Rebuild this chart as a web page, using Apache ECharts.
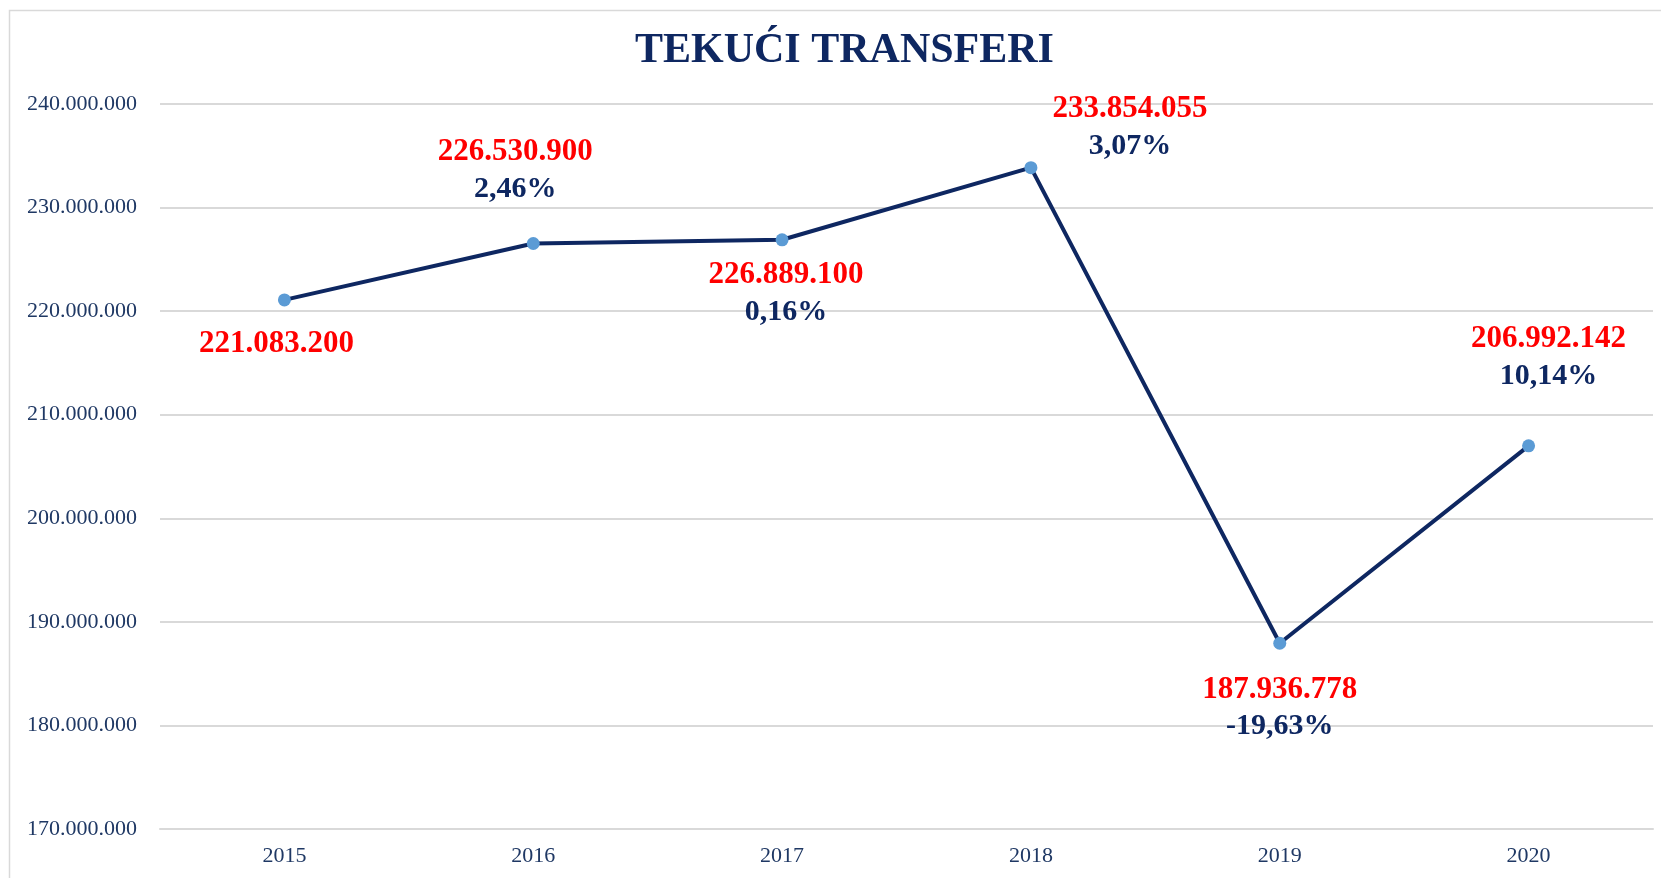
<!DOCTYPE html>
<html>
<head>
	<meta charset="UTF-8">
	<title>Tekući transferi</title>
	<style>
		html, body { margin: 0; padding: 0; background: #fff; }
		#chart { width: 1661px; height: 878px; }
	</style>
</head>
<body>
<div id="chart"></div>
<script type="text/javascript" src="https://cdn.jsdelivr.net/npm/echarts@6/dist/echarts.min.js"></script>
<script type="text/javascript">
var years = ['2015', '2016', '2017', '2018', '2019', '2020'];
var values = [221083200, 226530900, 226889100, 233854055, 187936778, 206992142];
var changes = ['', '2,46%', '0,16%', '3,07%', '-19,63%', '10,14%'];
var yTicks = [170000000, 180000000, 190000000, 200000000, 210000000, 220000000, 230000000, 240000000];

// where each value label sits relative to its point (px)
var labelOffsets = [[-8, 44], [-18, -73], [4, 54], [99, -40], [0, 65], [20, -88]];

var fontFam = '"Liberation Serif", "DejaVu Serif", serif';
var navy = '#0e2761';

function fmt(n) {
	return String(n).replace(/\B(?=(\d{3})+(?!\d))/g, '.');
}

var points = [];
for (var i = 0; i < values.length; i++) {
	points.push({
		value: values[i],
		label: {
			position: 'inside',
			offset: labelOffsets[i]
		}
	});
}

var chart = echarts.init(document.getElementById('chart'));
var option = {
	animation: false,
	backgroundColor: '#fff',
	title: {
		text: 'TEKUĆI TRANSFERI',
		left: 630,
		top: 25,
		textStyle: {
			fontFamily: fontFam,
			fontSize: 42,
			fontWeight: 'bold',
			color: navy
		}
	},
	graphic: [{
		type: 'polyline',
		silent: true,
		shape: { points: [[9.5, 900], [9.5, 10.5], [1700, 10.5]] },
		style: { stroke: '#d9d9d9', lineWidth: 1.5, fill: null }
	}],
	grid: {
		left: 160,
		right: 8,
		top: 104,
		bottom: 49
	},
	xAxis: {
		type: 'category',
		data: years,
		boundaryGap: true,
		axisLine: { show: true, lineStyle: { color: '#d9d9d9', width: 2 } },
		axisTick: { show: false },
		axisLabel: {
			margin: 16,
			fontFamily: fontFam,
			fontSize: 22,
			color: '#1f3864'
		}
	},
	yAxis: {
		type: 'value',
		min: yTicks[0],
		max: yTicks[yTicks.length - 1],
		interval: 10000000,
		axisLine: { show: false },
		axisTick: { show: false },
		splitLine: { lineStyle: { color: '#d9d9d9', width: 2 } },
		axisLabel: {
			margin: 23,
			fontFamily: fontFam,
			fontSize: 22,
			color: '#1f3864',
			formatter: function (v) { return fmt(v); }
		}
	},
	series: [{
		type: 'line',
		data: points,
		symbol: 'circle',
		symbolSize: 13,
		lineStyle: { color: navy, width: 4 },
		itemStyle: { color: '#5b9bd5' },
		label: {
			show: true,
			formatter: function (p) {
				var s = '{v|' + fmt(p.value) + '}';
				if (changes[p.dataIndex]) s += '\n{c|' + changes[p.dataIndex] + '}';
				return s;
			},
			rich: {
				v: {
					fontFamily: fontFam,
					fontSize: 31,
					fontWeight: 'bold',
					color: '#ff0000',
					lineHeight: 37,
					align: 'center'
				},
				c: {
					fontFamily: fontFam,
					fontSize: 30,
					fontWeight: 'bold',
					color: navy,
					lineHeight: 37,
					align: 'center'
				}
			}
		}
	}]
};
chart.setOption(option);
</script>
</body>
</html>
